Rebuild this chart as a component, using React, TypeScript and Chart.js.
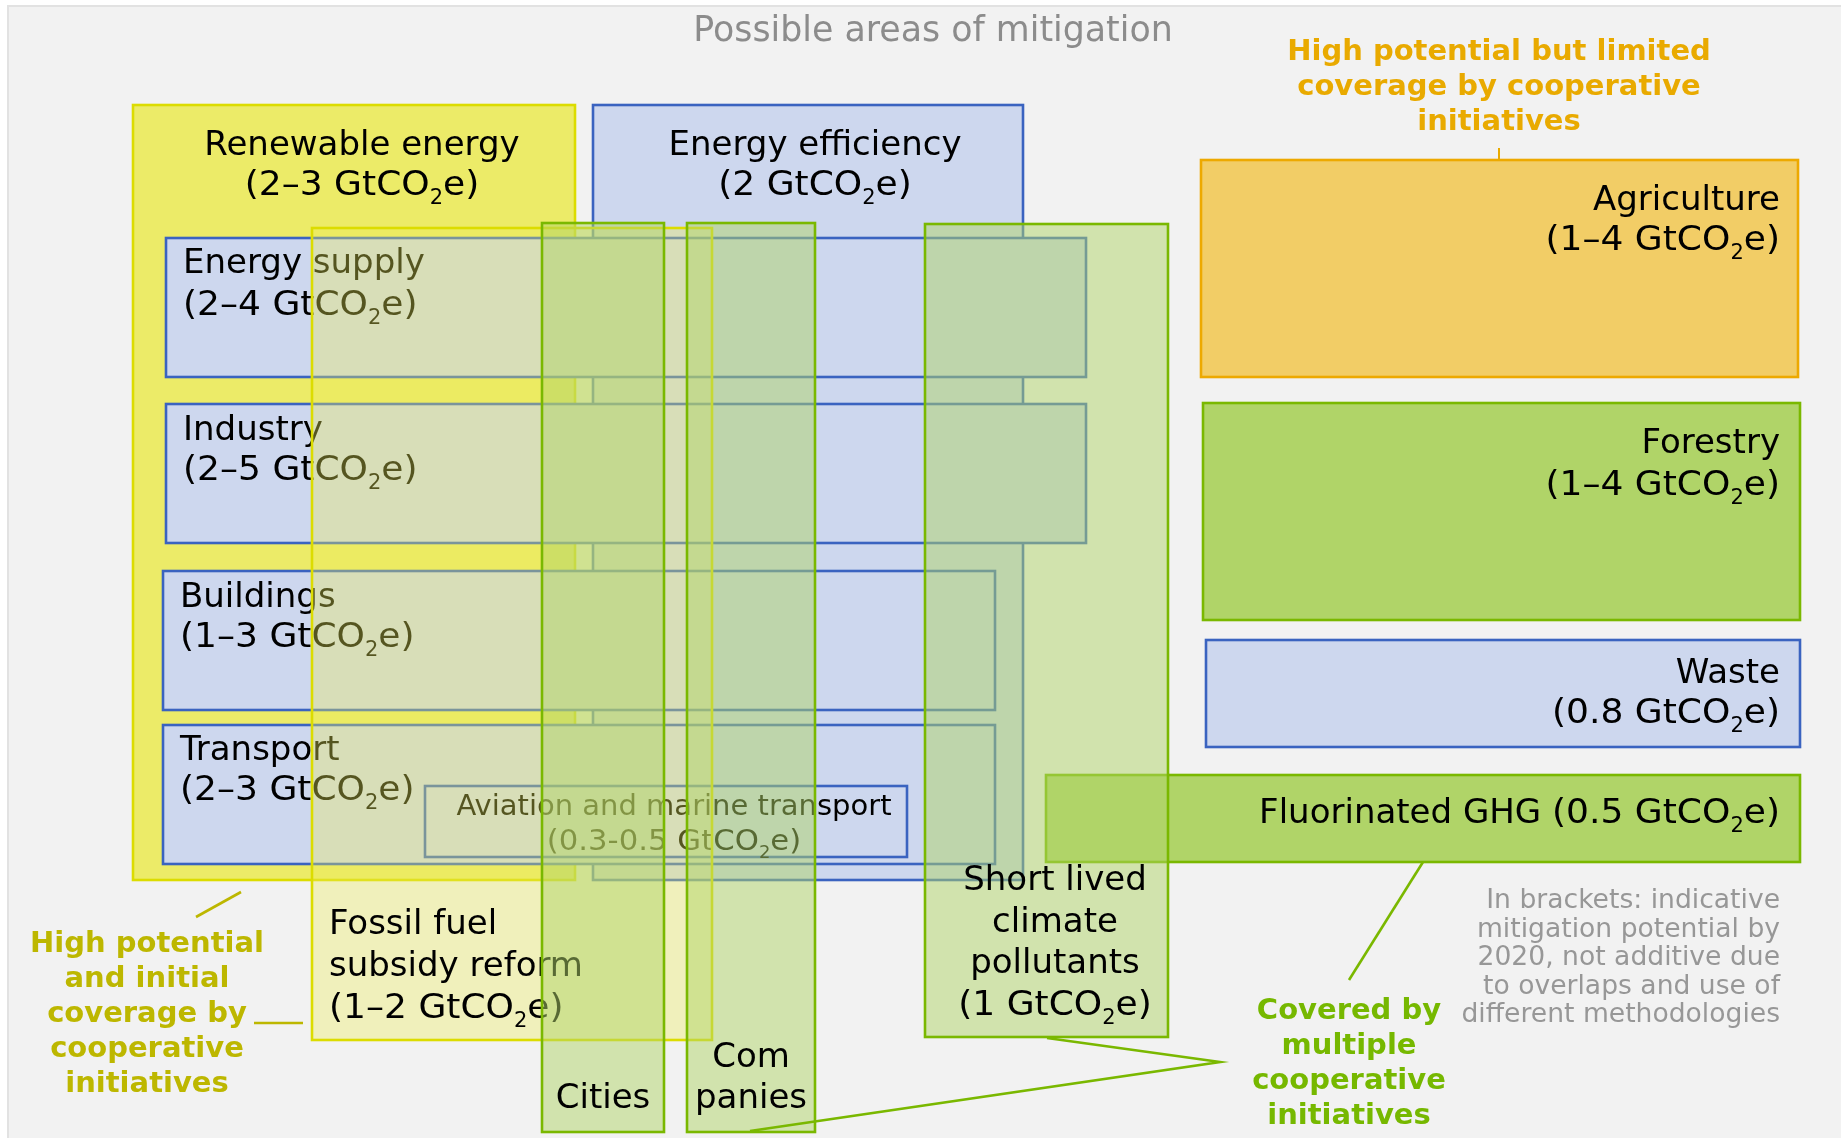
import React, { useEffect, useRef } from 'react';
import { Chart, registerables } from 'chart.js';

Chart.register(...registerables);

const W = 1841;
const H = 1138;
const FONT = '"DejaVu Sans", Verdana, sans-serif';

// ---- Areas of mitigation (boxes), drawn back to front ----
const areaNames = [
  'Renewable energy', 'Energy efficiency', 'Energy supply', 'Industry', 'Buildings', 'Transport',
  'Aviation and marine transport', 'Agriculture', 'Forestry', 'Waste', 'Fluorinated GHG',
  'Fossil fuel subsidy reform', 'Cities', 'Companies', 'Short lived climate pollutants',
];
const areaPotential = ['2–3', '2', '2–4', '2–5', '1–3', '2–3', '0.3-0.5', '1–4', '1–4', '0.8', '0.5', '1–2', '', '', '1'];
const areaKind = [
  'renewable', 'efficiency', 'sector', 'sector', 'sector', 'sector', 'sector',
  'orange', 'green', 'sector', 'green', 'fossil', 'initiative', 'initiative', 'initiative',
];
const areaLeft = [133, 593, 166, 166, 163, 163, 425, 1201, 1203, 1206, 1046, 312, 542, 687, 925];
const areaRight = [575, 1023, 1086, 1086, 995, 995, 907, 1798, 1800, 1800, 1800, 712, 664, 815, 1168];
const areaTop = [105, 105, 238, 404, 571, 725, 786, 160, 403, 640, 775, 228, 223, 223, 224];
const areaBottom = [880, 880, 377, 543, 710, 864, 857, 377, 620, 747, 862, 1040, 1132, 1132, 1037];

// ---- Labels of the boxes ----
const areaLabelLines = [
  ['Renewable energy', '(2–3 GtCO₂e)'],
  ['Energy efficiency', '(2 GtCO₂e)'],
  ['Energy supply', '(2–4 GtCO₂e)'],
  ['Industry', '(2–5 GtCO₂e)'],
  ['Buildings', '(1–3 GtCO₂e)'],
  ['Transport', '(2–3 GtCO₂e)'],
  ['Aviation and marine transport', '(0.3-0.5 GtCO₂e)'],
  ['Agriculture', '(1–4 GtCO₂e)'],
  ['Forestry', '(1–4 GtCO₂e)'],
  ['Waste', '(0.8 GtCO₂e)'],
  ['Fluorinated GHG (0.5 GtCO₂e)'],
  ['Fossil fuel', 'subsidy reform', '(1–2 GtCO₂e)'],
  ['Cities'],
  ['Com', 'panies'],
  ['Short lived', 'climate', 'pollutants', '(1 GtCO₂e)'],
];
const labelX = [362, 815, 183, 183, 180, 180, 674, 1780, 1780, 1780, 1780, 329, 603, 751, 1055];
const labelY = [155, 155, 273, 440, 607, 760, 815, 210, 453, 683, 823, 934, 1108, 1067, 890];
const labelAlign = ['center', 'center', 'left', 'left', 'left', 'left', 'center', 'right', 'right', 'right', 'right', 'left', 'center', 'center', 'center'];
const labelSize = [34, 34, 34, 34, 34, 34, 29, 34, 34, 34, 34, 34, 34, 34, 34];
const labelGap = [40, 40, 42, 40, 40, 40, 35, 40, 42, 40, 40, 42, 41, 41, 41.5];

// ---- Free annotations ----
const noteLines = [
  ['Possible areas of mitigation'],
  ['High potential but limited', 'coverage by cooperative', 'initiatives'],
  ['High potential', 'and initial', 'coverage by', 'cooperative', 'initiatives'],
  ['Covered by', 'multiple', 'cooperative', 'initiatives'],
  ['In brackets: indicative', 'mitigation potential by', '2020, not additive due', 'to overlaps and use of', 'different methodologies'],
];
const noteX = [933, 1499, 147, 1349, 1780];
const noteY = [41, 60, 952, 1019, 908];
const noteAlign = ['center', 'center', 'center', 'center', 'right'];
const noteSize = [34.8, 29, 29, 29, 26.6];
const noteBold = [false, true, true, true, false];
const noteGap = [0, 35, 35, 35, 28.5];
const noteColor = ['#8c8c8c', '#e9aa00', '#bdb700', '#76b800', '#979797'];

// ---- Connector lines ----
const connectorX = [[1499, 1499], [196, 241], [254, 303], [1423, 1349], [1047, 1220, 750]];
const connectorY = [[148, 160], [917, 892], [1023, 1023], [862, 980], [1038, 1062, 1131]];
const connectorColor = ['#e9aa00', '#bdb700', '#bdb700', '#7ab800', '#7ab800'];

const kindStyle: Record<string, { fill: string; stroke: string }> = {
  renewable: { fill: '#ECEB68', stroke: '#DCDC00' },
  efficiency: { fill: '#CDD7EE', stroke: '#3A63C0' },
  sector: { fill: '#CDD7EE', stroke: '#3A63C0' },
  orange: { fill: '#F2CD66', stroke: '#EDA900' },
  green: { fill: '#B0D468', stroke: '#7AB800' },
  fossil: { fill: 'rgba(236,235,90,0.36)', stroke: '#DCDC00' },
  initiative: { fill: 'rgba(176,212,104,0.5)', stroke: '#7AB800' },
};

type Seg = { t: string; sub: boolean; sx: number };

function splitSegments(text: string): Seg[] {
  const segs: Seg[] = [];
  const open = text.indexOf('(');
  const head = open >= 0 ? text.slice(0, open) : text;
  const tail = open >= 0 ? text.slice(open) : '';
  if (head) segs.push({ t: head, sub: false, sx: 1 });
  if (tail) {
    const parts = tail.split('₂');
    parts.forEach((p, i) => {
      if (p) segs.push({ t: p, sub: false, sx: 1.06 });
      if (i < parts.length - 1) segs.push({ t: '2', sub: true, sx: 1 });
    });
  }
  return segs;
}

function drawRich(
  ctx: CanvasRenderingContext2D,
  text: string,
  x: number,
  y: number,
  align: string,
  size: number,
  bold: boolean,
  color: string,
) {
  const weight = bold ? 'bold' : 'normal';
  const subSize = Math.round(size * 0.62);
  const mainFont = `${weight} ${size}px ${FONT}`;
  const subFont = `${weight} ${subSize}px ${FONT}`;
  const segs = splitSegments(text);
  const widths = segs.map((s) => {
    ctx.font = s.sub ? subFont : mainFont;
    return ctx.measureText(s.t).width * s.sx;
  });
  const total = widths.reduce((a, b) => a + b, 0);
  let cx = align === 'center' ? x - total / 2 : align === 'right' ? x - total : x;
  ctx.fillStyle = color;
  ctx.textAlign = 'left';
  ctx.textBaseline = 'alphabetic';
  segs.forEach((s, i) => {
    ctx.font = s.sub ? subFont : mainFont;
    const yy = s.sub ? y + size * 0.27 : y;
    if (s.sx !== 1) {
      ctx.save();
      ctx.translate(cx, yy);
      ctx.scale(s.sx, 1);
      ctx.fillText(s.t, 0, 0);
      ctx.restore();
    } else {
      ctx.fillText(s.t, cx, yy);
    }
    cx += widths[i];
  });
}

const diagramPlugin = {
  id: 'mitigationDiagram',
  beforeDatasetsDraw(chart: any) {
    const { ctx } = chart;
    const xs = chart.scales.x;
    const ys = chart.scales.y;
    const px = (v: number) => xs.getPixelForValue(v);
    const py = (v: number) => ys.getPixelForValue(v);
    ctx.save();
    // page and panel
    ctx.fillStyle = '#ffffff';
    ctx.fillRect(px(0), py(0), px(W) - px(0), py(H) - py(0));
    ctx.fillStyle = '#F2F2F2';
    ctx.fillRect(px(8), py(6), px(W) - px(8), py(H) - py(6));
    ctx.strokeStyle = '#E2E2E2';
    ctx.lineWidth = 2;
    ctx.strokeRect(px(8), py(6), px(W + 10) - px(8), py(H + 10) - py(6));

    areaNames.forEach((_, i) => {
      const st = kindStyle[areaKind[i]];
      const x0 = px(areaLeft[i]);
      const x1 = px(areaRight[i]);
      const y0 = py(areaTop[i]);
      const y1 = py(areaBottom[i]);
      ctx.fillStyle = st.fill;
      ctx.fillRect(x0, y0, x1 - x0, y1 - y0);
      ctx.strokeStyle = st.stroke;
      ctx.lineWidth = 2.6;
      ctx.strokeRect(x0, y0, x1 - x0, y1 - y0);
      areaLabelLines[i].forEach((line, j) => {
        drawRich(ctx, line, px(labelX[i]), py(labelY[i] + j * labelGap[i]), labelAlign[i], labelSize[i], false, '#000000');
      });
    });

    noteLines.forEach((lines, i) => {
      lines.forEach((line, j) => {
        drawRich(ctx, line, px(noteX[i]), py(noteY[i] + j * noteGap[i]), noteAlign[i], noteSize[i], noteBold[i], noteColor[i]);
      });
    });
    ctx.restore();
  },
};

export default function App() {
  const ref = useRef<HTMLCanvasElement | null>(null);

  useEffect(() => {
    document.body.style.margin = '0';
    const canvas = ref.current;
    if (!canvas) return;
    const datasets = connectorX.map((xsArr, i) => ({
      label: `connector ${i}`,
      data: xsArr.map((x, j) => ({ x, y: connectorY[i][j] })),
      borderColor: connectorColor[i],
      borderWidth: i === 0 ? 2 : 2.6,
      pointRadius: 0,
      fill: false,
      tension: 0,
      showLine: true,
    }));
    const chart = new Chart(canvas, {
      type: 'line',
      data: { datasets },
      options: {
        animation: false,
        responsive: false,
        maintainAspectRatio: false,
        events: [],
        layout: { padding: 0 },
        scales: {
          x: { type: 'linear', min: 0, max: W, display: false },
          y: { type: 'linear', min: 0, max: H, reverse: true, display: false },
        },
        plugins: {
          legend: { display: false },
          tooltip: { enabled: false },
          title: { display: false },
        },
      },
      plugins: [diagramPlugin],
    });
    return () => chart.destroy();
  }, []);

  return (
    <div style={{ width: W, height: H, margin: 0, padding: 0 }}>
      <canvas ref={ref} width={W} height={H} style={{ display: 'block', width: W, height: H }} />
    </div>
  );
}
